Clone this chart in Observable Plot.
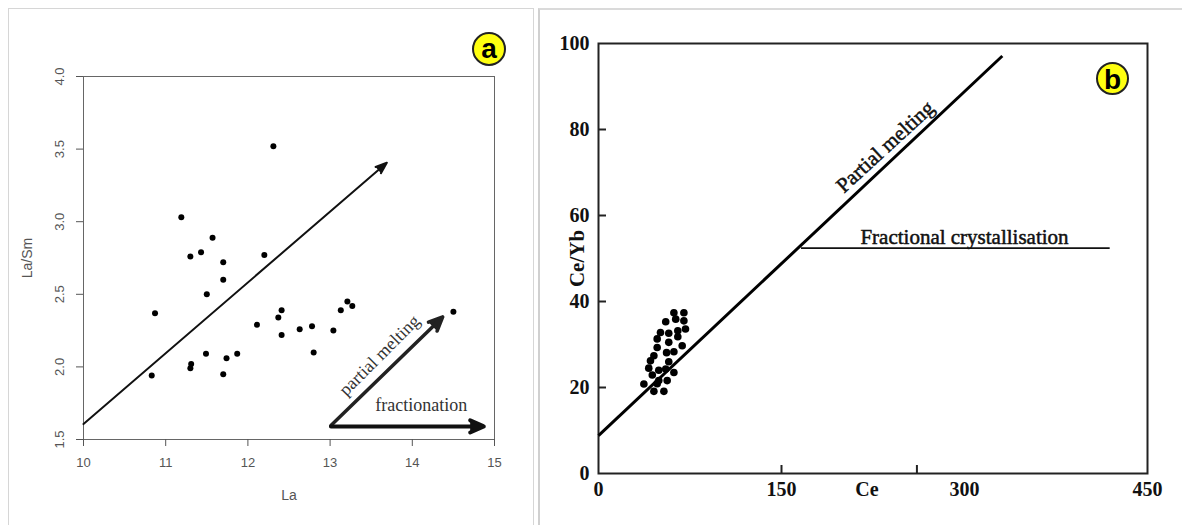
<!DOCTYPE html>
<html>
<head>
<meta charset="utf-8">
<script src="https://cdn.jsdelivr.net/npm/d3@7"></script>
<script src="https://cdn.jsdelivr.net/npm/@observablehq/plot@0.6"></script>
<style>
  html, body { margin: 0; padding: 0; background: #fff; }
  body { width: 1182px; height: 525px; overflow: hidden; position: relative; }
  .panelA { position: absolute; left: 8px; top: 8px; width: 526px; height: 540px; border: 1px solid #d6d6d6; box-sizing: border-box; }
  .panelB { position: absolute; left: 538px; top: 8px; width: 660px; height: 540px; border-left: 2px solid #d0d0d0; border-top: 2px solid #dadada; box-sizing: border-box; }
  #chartA { position: absolute; left: 0; top: 0; }
  #chartB { position: absolute; left: 540px; top: 0; }
  .badge { position: absolute; box-sizing: border-box; border-radius: 50%; background: #ffff10; border: 2px solid #222;
           font-family: "Liberation Sans", Arial, sans-serif; font-weight: bold; color: #000; text-align: center; }
</style>
</head>
<body>
<div class="panelA"></div>
<div class="panelB"></div>
<div id="chartA"></div>
<div id="chartB"></div>
<div class="badge" style="left:472px;top:32px;width:34px;height:34px;font-size:28px;line-height:29px;">a</div>
<div class="badge" style="left:1096px;top:62px;width:33px;height:33px;font-size:28px;line-height:31px;">b</div>
<script>
// ---------- Panel (a): La vs La/Sm ----------
const laValues   = [12.31, 11.19, 11.57, 11.30, 11.43, 11.70, 12.20, 11.70, 11.50, 10.87,
                    10.83, 11.31, 11.30, 11.49, 11.70, 11.74, 11.87, 12.11, 12.37, 12.41,
                    12.41, 12.63, 12.78, 12.80, 13.04, 13.13, 13.21, 13.27, 14.50];
const laSmValues = [3.52, 3.03, 2.89, 2.76, 2.79, 2.72, 2.77, 2.60, 2.50, 2.37,
                    1.94, 2.02, 1.99, 2.09, 1.95, 2.06, 2.09, 2.29, 2.34, 2.39,
                    2.22, 2.26, 2.28, 2.10, 2.25, 2.39, 2.45, 2.42, 2.38];
const laTicks   = [10, 11, 12, 13, 14, 15];
const laSmTicks = [1.5, 2.0, 2.5, 3.0, 3.5, 4.0];
// arrows: [x1, y1, x2, y2]
const trendArrow         = [10.00, 1.606, 13.69, 3.406];
const meltingArrow       = [13.01, 1.596, 14.37, 2.344];
const fractionationArrow = [13.01, 1.590, 14.87, 1.590];
// annotation labels: [text, x, y]
const meltingLabelA       = ["partial melting", 13.60, 2.08];
const fractionationLabelA = ["fractionation", 14.11, 1.736];

// ---------- Panel (b): Ce vs Ce/Yb ----------
const ceValues   = [61.8, 70.0, 55.1, 63.3, 70.0, 50.8, 57.6, 65.0, 71.3, 48.1,
                    65.0, 48.1, 57.6, 68.6, 45.4, 55.8, 61.8, 42.6, 57.6, 41.2,
                    49.4, 55.1, 61.8, 49.4, 56.3, 37.2, 48.1, 45.4, 53.6, 44.1];
const ceYbValues = [37.4, 37.4, 35.3, 35.9, 35.5, 32.8, 32.6, 33.2, 33.6, 31.3,
                    31.8, 29.3, 30.5, 29.7, 27.4, 28.1, 28.3, 26.2, 26.0, 24.5,
                    24.0, 24.3, 23.5, 21.6, 21.6, 20.8, 20.9, 19.1, 19.1, 22.9];
const ceTickLabels   = [0, 150, 300, 450];
const ceYbTickLabels = [0, 20, 40, 60, 80, 100];
const ceInnerTicks   = [150, 261];
const ceYbInnerTicks = [20, 40, 60, 80];
const meltingLineB       = [0, 8.8, 331, 97.1];
const fractionalLineB    = [166, 52.4, 419, 52.4];
const meltingLabelB      = ["Partial melting", 235, 76.0];
const fractionalLabelB   = ["Fractional crystallisation", 300, 55.0];
const ceAxisLabel        = ["Ce", 220];

const ptsA = laValues.map((x, i) => ({x, y: laSmValues[i]}));
const ptsB = ceValues.map((x, i) => ({x, y: ceYbValues[i]}));
const seg = a => [{x1: a[0], y1: a[1], x2: a[2], y2: a[3]}];
const lab = a => [{t: a[0], x: a[1], y: a[2]}];

const sans = "'Liberation Sans', Arial, sans-serif";
const serif = "'Liberation Serif', 'Times New Roman', serif";

const chartA = Plot.plot({
  width: 535, height: 525,
  marginLeft: 83, marginRight: 41, marginTop: 76, marginBottom: 86,
  x: {domain: [10, 15]},
  y: {domain: [1.5, 4.0]},
  style: {fontFamily: sans, fontSize: "13px", color: "#555", background: "transparent", overflow: "visible"},
  marks: [
    Plot.frame({stroke: "#666", strokeWidth: 1}),
    Plot.axisX({ticks: laTicks, tickSize: 7, tickPadding: 11, label: null, tickFormat: d3.format("d")}),
    Plot.axisY({ticks: laSmTicks, tickSize: 7, tickPadding: 13, tickRotate: -90, label: null, tickFormat: d3.format(".1f")}),
    Plot.text(["La"], {frameAnchor: "bottom", dy: 56, textAnchor: "middle", lineAnchor: "middle", fontSize: 14, fill: "#555"}),
    Plot.text(["La/Sm"], {frameAnchor: "left", dx: -55.5, rotate: -90, textAnchor: "middle", lineAnchor: "middle", fontSize: 14, fill: "#555"}),
    Plot.arrow(seg(trendArrow), {x1: "x1", y1: "y1", x2: "x2", y2: "y2", stroke: "#111", fill: "#111", strokeWidth: 2, headLength: 9, headAngle: 40}),
    Plot.arrow(seg(meltingArrow), {x1: "x1", y1: "y1", x2: "x2", y2: "y2", stroke: "#222", fill: "#222", strokeWidth: 3.5, headLength: 6.5, headAngle: 48}),
    Plot.arrow(seg(fractionationArrow), {x1: "x1", y1: "y1", x2: "x2", y2: "y2", stroke: "#111", fill: "#111", strokeWidth: 4, headLength: 5.6, headAngle: 48}),
    Plot.dot(ptsA, {x: "x", y: "y", r: 3, fill: "#000", stroke: null}),
    Plot.text(lab(meltingLabelA), {x: "x", y: "y", text: "t", rotate: -45, fontFamily: serif, fontSize: 18, fill: "#333"}),
    Plot.text(lab(fractionationLabelA), {x: "x", y: "y", text: "t", fontFamily: serif, fontSize: 18, fill: "#333"})
  ]
});
document.getElementById("chartA").append(chartA);

const chartB = Plot.plot({
  width: 642, height: 525,
  marginLeft: 58, marginRight: 35, marginTop: 43, marginBottom: 52,
  x: {domain: [0, 450]},
  y: {domain: [0, 100]},
  style: {fontFamily: serif, fontSize: "20px", fontWeight: "bold", color: "#111", background: "transparent", overflow: "visible"},
  marks: [
    Plot.frame({stroke: "#222", strokeWidth: 2}),
    Plot.axisX({ticks: ceTickLabels, tickSize: 0, tickPadding: 8, label: null}),
    Plot.axisY({ticks: ceYbTickLabels, tickSize: 0, tickPadding: 9, label: null}),
    Plot.tickY(ceYbInnerTicks, {y: d => d, insetRight: 541, stroke: "#222", strokeWidth: 2}),
    Plot.tickX(ceInnerTicks, {x: d => d, insetTop: 422, stroke: "#222", strokeWidth: 2}),
    Plot.text([ceAxisLabel], {x: d => d[1], text: d => d[0], frameAnchor: "bottom", dy: 16, textAnchor: "middle", lineAnchor: "middle", fontSize: 20, fontWeight: "bold", fill: "#111"}),
    Plot.text(["Ce/Yb"], {frameAnchor: "left", dx: -21, rotate: -90, textAnchor: "middle", lineAnchor: "middle", fontSize: 21, fontWeight: "bold", fill: "#111"}),
    Plot.link(seg(meltingLineB), {x1: "x1", y1: "y1", x2: "x2", y2: "y2", stroke: "#000", strokeWidth: 3}),
    Plot.link(seg(fractionalLineB), {x1: "x1", y1: "y1", x2: "x2", y2: "y2", stroke: "#111", strokeWidth: 1.8}),
    Plot.dot(ptsB, {x: "x", y: "y", r: 3.8, fill: "#000", stroke: null}),
    Plot.text(lab(meltingLabelB), {x: "x", y: "y", text: "t", rotate: -42.5, fontSize: 21, fontWeight: "normal", fill: "#111", stroke: "#111", strokeWidth: 0.5}),
    Plot.text(lab(fractionalLabelB), {x: "x", y: "y", text: "t", fontSize: 21, fontWeight: "normal", fill: "#111", stroke: "#111", strokeWidth: 0.5})
  ]
});
document.getElementById("chartB").append(chartB);
</script>
</body>
</html>
